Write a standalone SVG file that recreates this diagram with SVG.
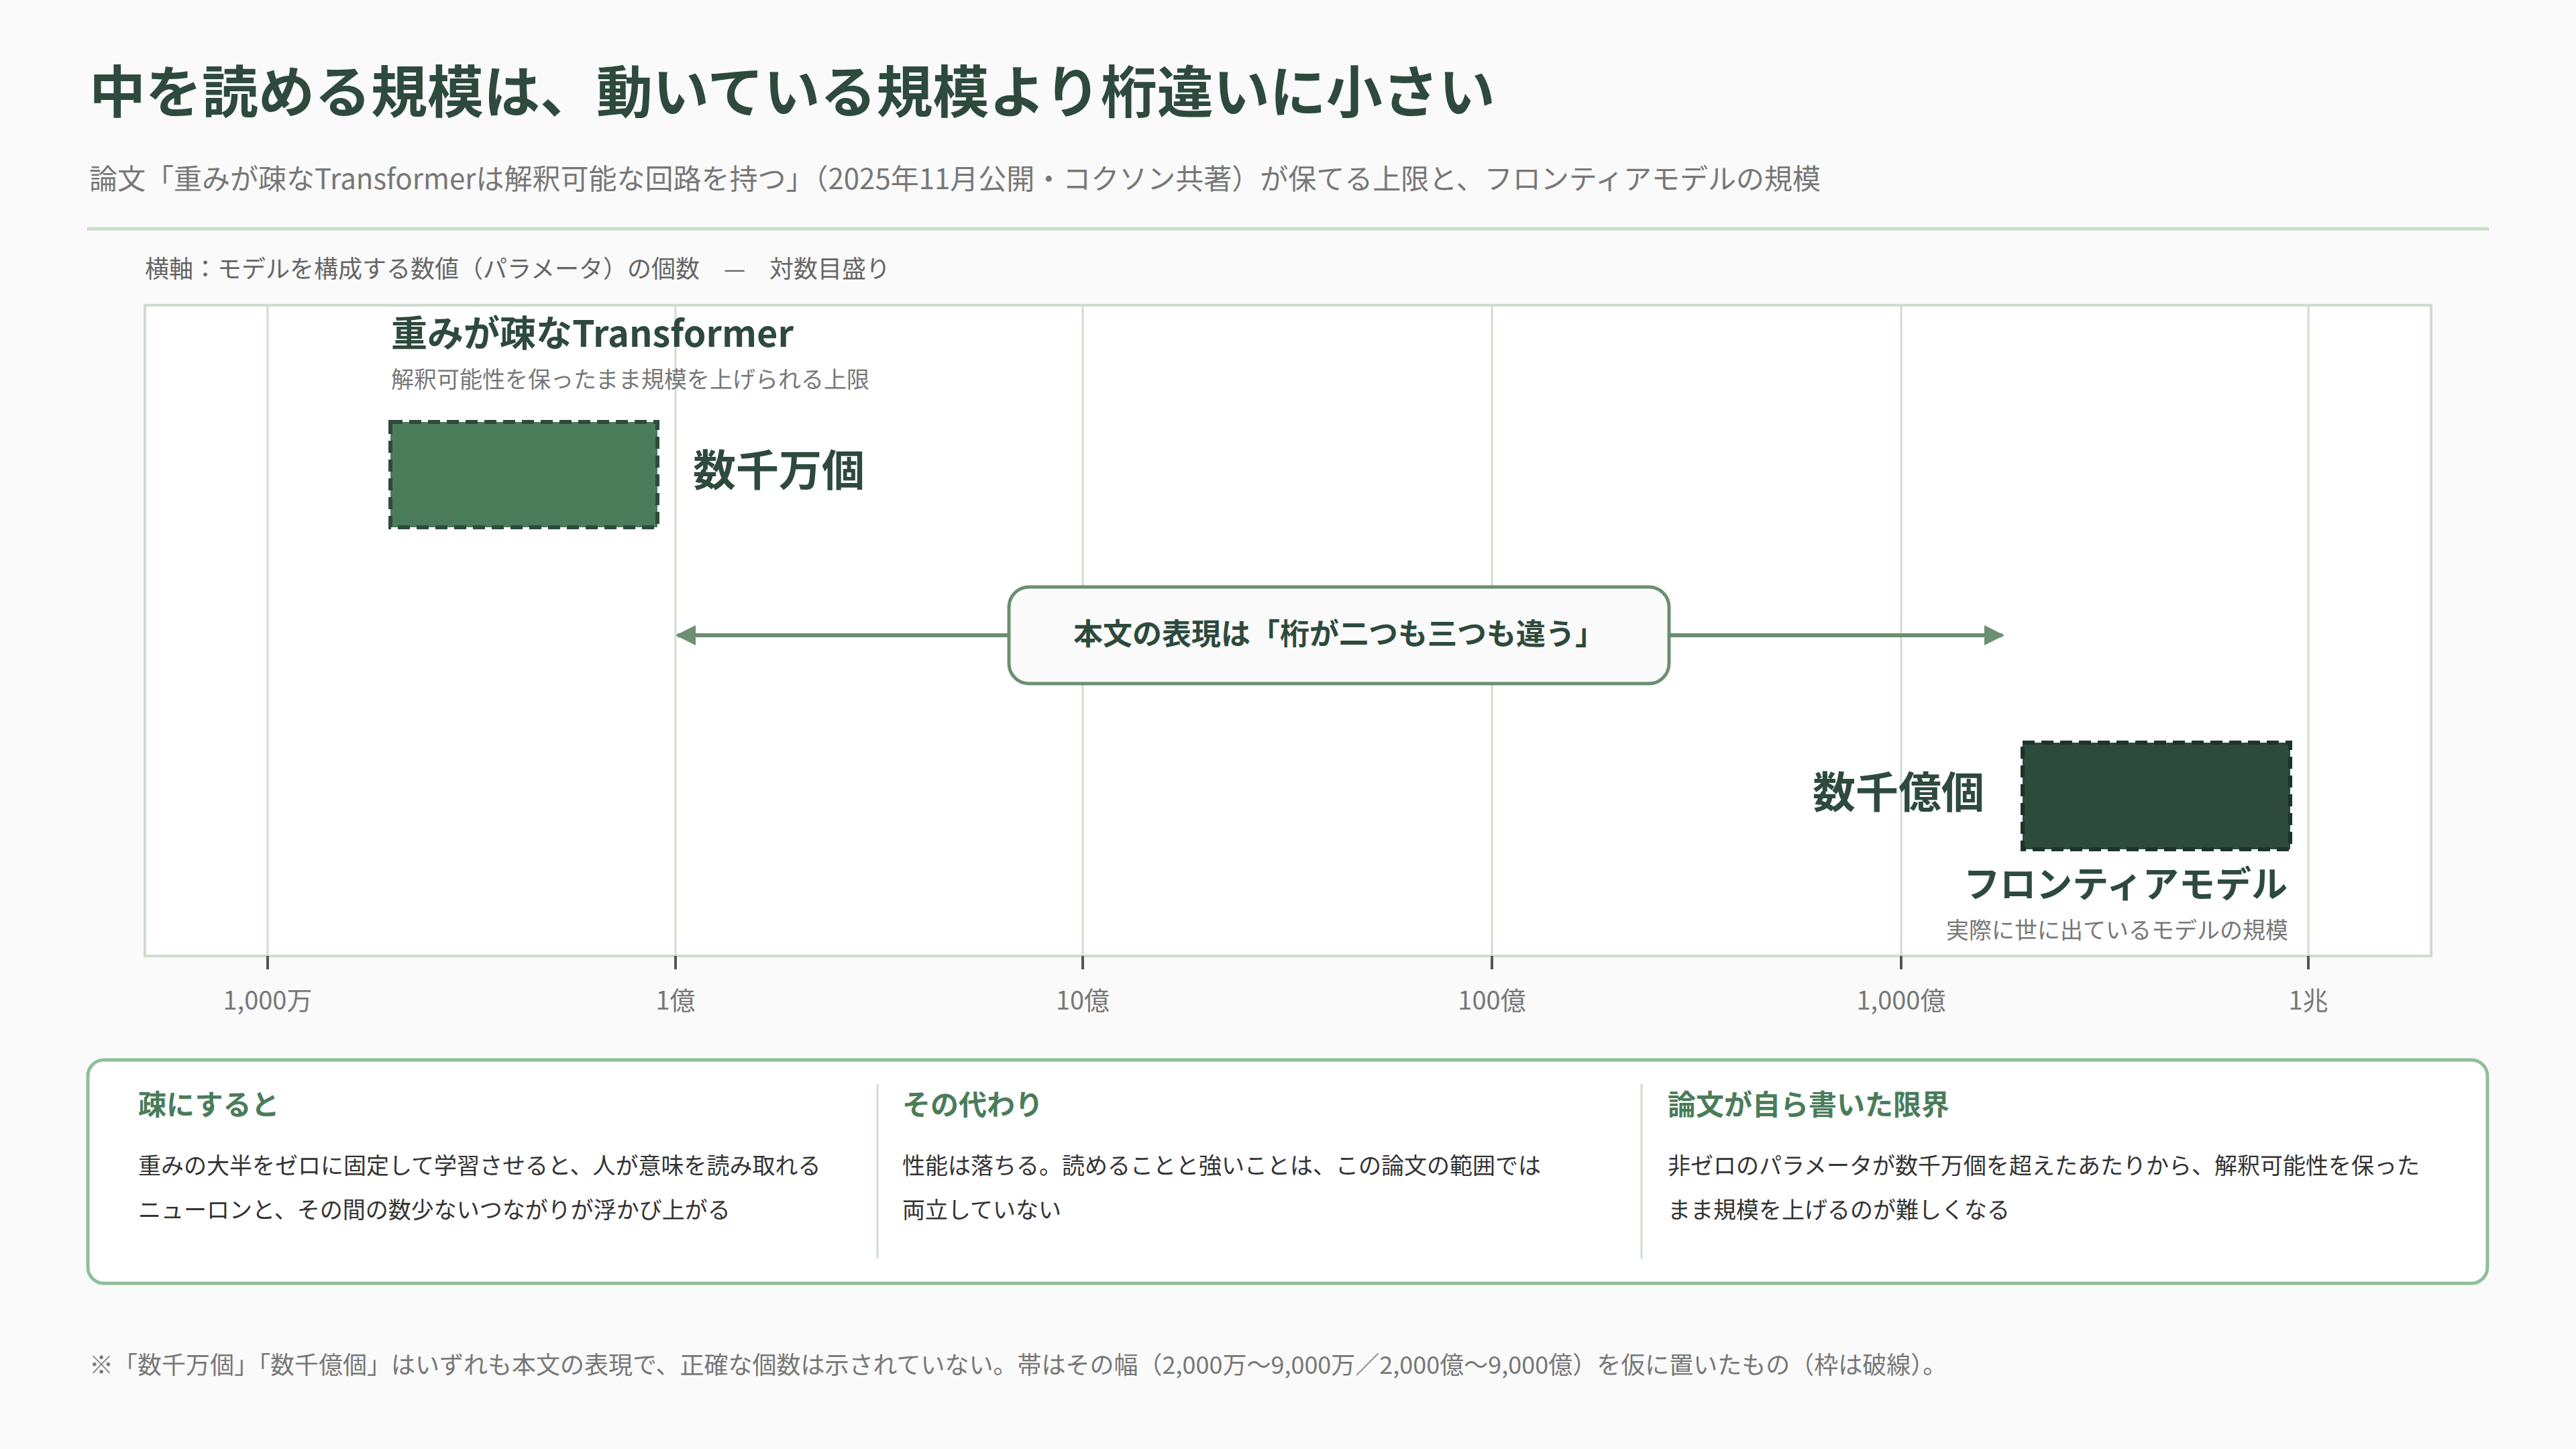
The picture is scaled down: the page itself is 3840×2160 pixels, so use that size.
<svg xmlns="http://www.w3.org/2000/svg" width="3840" height="2160" viewBox="0 0 3840 2160">
<defs>
<style>
text{font-family:"Noto Sans CJK JP","Noto Sans",sans-serif}
.grid{stroke:#cfdccf;stroke-width:3}
.tick{font-size:38px;fill:#777;text-anchor:middle}
.head{font-size:42px;font-weight:700;fill:#4a7c59}
.body{font-size:34px;fill:#333}
</style>
<marker id="ah" viewBox="0 0 10 10" refX="9" refY="5" markerWidth="5" markerHeight="5" orient="auto-start-reverse"><path d="M0,0 L10,5 L0,10 z" fill="#6b8f71"/></marker>
</defs>
<rect width="3840" height="2160" fill="#fafafa"/>
<text x="133" y="168" font-size="84" font-weight="700" fill="#2d4a3c">中を読める規模は、動いている規模より桁違いに小さい</text>
<text x="133" y="282" font-size="42" fill="#777">論文「重みが疎なTransformerは解釈可能な回路を持つ」（2025年11月公開・コクソン共著）が保てる上限と、フロンティアモデルの規模</text>
<line x1="130" y1="341" x2="3710" y2="341" stroke="#c8dcc8" stroke-width="5"/>
<text x="216" y="414" font-size="36" fill="#666">横軸：モデルを構成する数値（パラメータ）の個数　—　対数目盛り</text>
<g id="chart">
<rect x="216" y="455" width="3408" height="970" fill="#fff" stroke="#cfdccf" stroke-width="4"/>
<g class="grid">
<line x1="399" y1="455" x2="399" y2="1445"/><line x1="1007" y1="455" x2="1007" y2="1445"/><line x1="1614" y1="455" x2="1614" y2="1445"/><line x1="2224" y1="455" x2="2224" y2="1445"/><line x1="2834" y1="455" x2="2834" y2="1445"/><line x1="3441" y1="455" x2="3441" y2="1445"/>
</g>
<g stroke="#555" stroke-width="4"><line x1="399" y1="1425" x2="399" y2="1445"/><line x1="1007" y1="1425" x2="1007" y2="1445"/><line x1="1614" y1="1425" x2="1614" y2="1445"/><line x1="2224" y1="1425" x2="2224" y2="1445"/><line x1="2834" y1="1425" x2="2834" y2="1445"/><line x1="3441" y1="1425" x2="3441" y2="1445"/></g>
<text class="tick" x="399" y="1505">1,000万</text><text class="tick" x="1007" y="1505">1億</text><text class="tick" x="1614" y="1505">10億</text><text class="tick" x="2224" y="1505">100億</text><text class="tick" x="2834" y="1505">1,000億</text><text class="tick" x="3441" y="1505">1兆</text>
</g>
<g id="sparse">
<text x="583" y="517" font-size="54" font-weight="700" fill="#2d4a3c">重みが疎なTransformer</text>
<text x="583" y="578" font-size="34" fill="#777">解釈可能性を保ったまま規模を上げられる上限</text>
<rect x="582" y="629" width="398" height="157" fill="#4a7c59" stroke="#2d4a3c" stroke-width="6" stroke-dasharray="18 10"/>
<text x="1033" y="724" font-size="64" font-weight="700" fill="#2d4a3c">数千万個</text>
</g>
<g id="frontier">
<rect x="3015" y="1107" width="399" height="159" fill="#2d4a3c" stroke="#1e3329" stroke-width="6" stroke-dasharray="18 10"/>
<text x="2958" y="1204" font-size="64" font-weight="700" fill="#2d4a3c" text-anchor="end">数千億個</text>
<text x="3410" y="1338" font-size="54" font-weight="700" fill="#2d4a3c" text-anchor="end">フロンティアモデル</text>
<text x="3411" y="1399" font-size="34" fill="#777" text-anchor="end">実際に世に出ているモデルの規模</text>
</g>
<g id="connectors">
<line x1="1010" y1="947" x2="1504" y2="947" stroke="#6b8f71" stroke-width="6" marker-start="url(#ah)"/>
<line x1="2488" y1="947" x2="2985" y2="947" stroke="#6b8f71" stroke-width="6" marker-end="url(#ah)"/>
</g>
<g id="callout">
<rect x="1504" y="875" width="984" height="144" rx="30" fill="#fafafa" stroke="#6b8f71" stroke-width="5"/>
<text x="1996" y="961" font-size="44" font-weight="700" fill="#2d4a3c" text-anchor="middle">本文の表現は「桁が二つも三つも違う」</text>
</g>
<g id="panel">
<rect x="131" y="1580" width="3577" height="333" rx="24" fill="#fff" stroke="#8fbf98" stroke-width="5"/>
<line x1="1308" y1="1616" x2="1308" y2="1876" stroke="#cfdccf" stroke-width="3"/>
<line x1="2447" y1="1616" x2="2447" y2="1876" stroke="#cfdccf" stroke-width="3"/>
<text class="head" x="206" y="1662">疎にすると</text>
<text class="body" x="206" y="1750">重みの大半をゼロに固定して学習させると、人が意味を読み取れる</text>
<text class="body" x="206" y="1816">ニューロンと、その間の数少ないつながりが浮かび上がる</text>
<text class="head" x="1345" y="1662">その代わり</text>
<text class="body" x="1345" y="1750">性能は落ちる。読めることと強いことは、この論文の範囲では</text>
<text class="body" x="1345" y="1816">両立していない</text>
<text class="head" x="2486" y="1662">論文が自ら書いた限界</text>
<text class="body" x="2486" y="1750">非ゼロのパラメータが数千万個を超えたあたりから、解釈可能性を保った</text>
<text class="body" x="2486" y="1816">まま規模を上げるのが難しくなる</text>
</g>
<text x="133" y="2048" font-size="36" fill="#777">※「数千万個」「数千億個」はいずれも本文の表現で、正確な個数は示されていない。帯はその幅（2,000万〜9,000万／2,000億〜9,000億）を仮に置いたもの（枠は破線）。</text>
</svg>
